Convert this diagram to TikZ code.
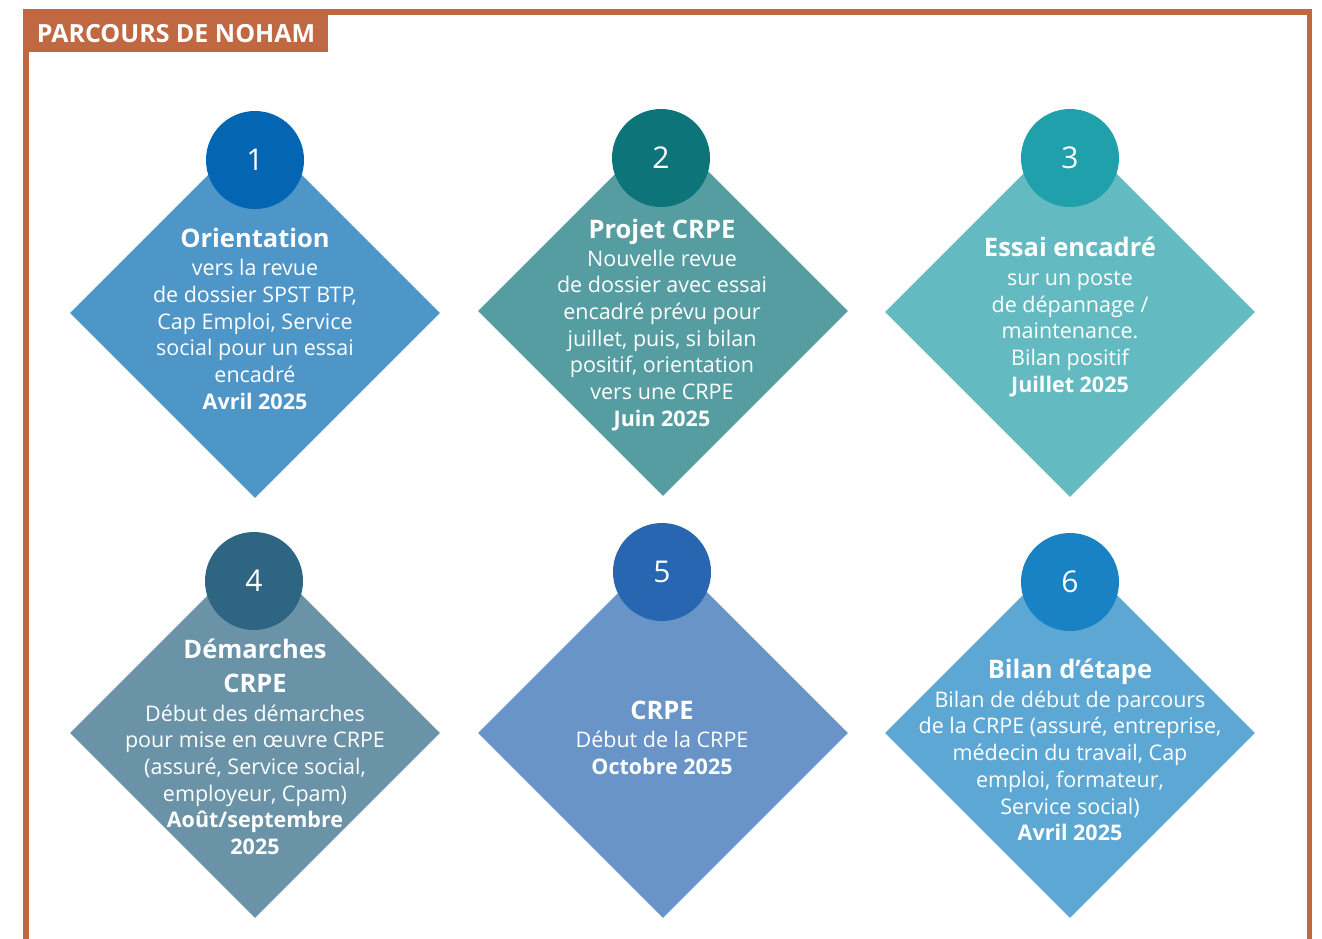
\documentclass[tikz,border=0pt]{standalone}
\usepackage{fontspec}
\setmainfont{Open Sans}
\usetikzlibrary{shapes.geometric}
\definecolor{frameC}{HTML}{BF6841}
\definecolor{dA}{HTML}{4E95C8}\definecolor{cA}{HTML}{0466B2}
\definecolor{dB}{HTML}{569DA2}\definecolor{cB}{HTML}{0D7479}
\definecolor{dC}{HTML}{63BAC1}\definecolor{cC}{HTML}{20A0AA}
\definecolor{dD}{HTML}{6A93A8}\definecolor{cD}{HTML}{2E6582}
\definecolor{dE}{HTML}{6894C8}\definecolor{cE}{HTML}{2966B1}
\definecolor{dF}{HTML}{5DA7D5}\definecolor{cF}{HTML}{1982C5}
\newcommand{\ttl}[1]{{\fontsize{25.5}{28}\selectfont\bfseries #1}}
\newcommand{\dat}[1]{{\bfseries #1}}
\tikzset{
  diam/.style={diamond, aspect=1, inner sep=0pt, minimum width=370pt, minimum height=370pt, draw=none},
  numc/.style={circle, inner sep=0pt, minimum size=98pt, text=white, font=\fontsize{30}{34}\selectfont},
  txt/.style={text=white, align=center, inner sep=0pt, font=\fontsize{21.5}{26.7}\selectfont},
}
\begin{document}
\begin{tikzpicture}[x=1pt,y=-1pt]
\useasboundingbox (0,0) rectangle (1322,938);
\clip (0,0) rectangle (1322,938);
\fill[white] (0,0) rectangle (1322,938);
\draw[frameC, line width=5.5pt] (26,12) rectangle (1309.5,980);
\fill[frameC] (23,9) rectangle (328,52);
\node[text=white, font=\fontsize{25}{28}\selectfont\bfseries, inner sep=0pt] (title) at (176,34) {PARCOURS DE NOHAM};

% diamonds
\node[diam, fill=dA] (d1) at (255,313) {};
\node[diam, fill=dB] (d2) at (663,311) {};
\node[diam, fill=dC] (d3) at (1070,312) {};
\node[diam, fill=dD] (d4) at (255,733) {};
\node[diam, fill=dE] (d5) at (663,733) {};
\node[diam, fill=dF] (d6) at (1070,733) {};

% circles
\node[numc, fill=cA] (c1) at (255,160) {1};
\node[numc, fill=cB] (c2) at (661,158) {2};
\node[numc, fill=cC] (c3) at (1070,158) {3};
\node[numc, fill=cD] (c4) at (254,581) {4};
\node[numc, fill=cE] (c5) at (662,572) {5};
\node[numc, fill=cF] (c6) at (1070,582) {6};

% texts
\node[txt] (t1) at (255,319) {\ttl{Orientation}\\[1pt] vers la revue\\ de dossier SPST BTP,\\ Cap Emploi, Service\\ social pour un essai\\ encadré\\ \dat{Avril 2025}};
\node[txt] (t2) at (662,325) {\ttl{Projet CRPE}\\[1pt] Nouvelle revue\\ de dossier avec essai\\ encadré prévu pour\\ juillet, puis, si bilan\\ positif, orientation\\ vers une CRPE\\ \dat{Juin 2025}};
\node[txt] (t3) at (1070,317) {\ttl{Essai encadré}\\[2pt] sur un poste\\ de dépannage /\\ maintenance.\\ Bilan positif\\ \dat{Juillet 2025}};
\node[txt] (t4) at (255,747) {\ttl{Démarches}\\[7pt] \ttl{CRPE}\\[2pt] Début des démarches\\ pour mise en œuvre CRPE\\ (assuré, Service social,\\ employeur, Cpam)\\ \dat{Août/septembre}\\ \dat{2025}};
\node[txt] (t5) at (662,738) {\ttl{CRPE}\\[1pt] Début de la CRPE\\ \dat{Octobre 2025}};
\node[txt] (t6) at (1070,750) {\ttl{Bilan d’étape}\\[2pt] Bilan de début de parcours\\ de la CRPE (assuré, entreprise,\\ médecin du travail, Cap\\ emploi, formateur,\\ Service social)\\ \dat{Avril 2025}};
\end{tikzpicture}
\end{document}
